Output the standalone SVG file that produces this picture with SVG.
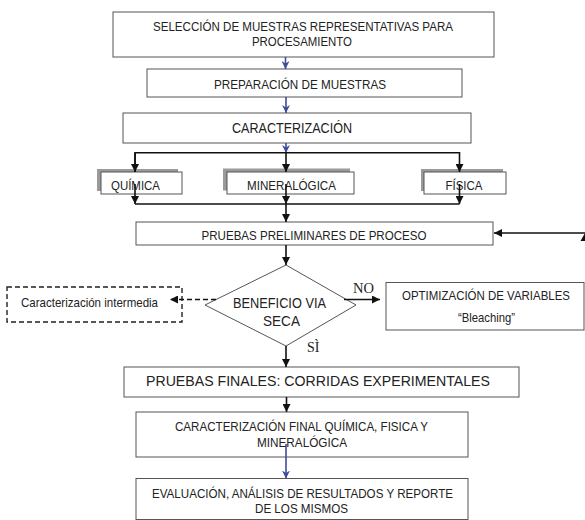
<svg xmlns="http://www.w3.org/2000/svg" width="585" height="520" viewBox="0 0 585 520">
<style>
.box{fill:#fff;stroke:#555;stroke-width:1}
.shadow{fill:#9a9a9a;stroke:none}
.t{font-family:"Liberation Sans",Arial,sans-serif;fill:#222;text-anchor:middle}
.s{font-family:"Liberation Serif","Times New Roman",serif;fill:#222}
.c{fill:none;stroke:#111;stroke-width:1.6}
.b{fill:none;stroke:#3d4c9c;stroke-width:1.6}
.d{fill:none;stroke:#111;stroke-width:1.6;stroke-dasharray:5,3}
</style>
<defs>
<marker id="ak" viewBox="0 0 10 10" refX="10" refY="5" markerWidth="8" markerHeight="8" markerUnits="userSpaceOnUse" orient="auto"><path d="M0,0 L10,5 L0,10 z" fill="#111"/></marker>
<marker id="ab" viewBox="0 0 10 10" refX="10" refY="5" markerWidth="8" markerHeight="8" markerUnits="userSpaceOnUse" orient="auto"><path d="M0,0 L10,5 L0,10 L3,5 z" fill="#3d4c9c"/></marker>
</defs>

<g id="n-seleccion">
<rect class="box" x="113" y="12" width="381" height="45"/>
<text class="t" x="303" y="31" font-size="12.5" textLength="300" lengthAdjust="spacingAndGlyphs">SELECCIÓN DE MUESTRAS REPRESENTATIVAS PARA</text>
<text class="t" x="302" y="45.5" font-size="12.5" textLength="100" lengthAdjust="spacingAndGlyphs">PROCESAMIENTO</text>
</g>
<g id="n-preparacion">
<rect class="box" x="147" y="69" width="315" height="28"/>
<text class="t" x="300" y="88.5" font-size="13.5" textLength="172" lengthAdjust="spacingAndGlyphs">PREPARACIÓN DE MUESTRAS</text>
</g>
<g id="n-caracterizacion">
<rect class="box" x="123" y="113" width="348" height="30"/>
<text class="t" x="292" y="133" font-size="15.5" textLength="120" lengthAdjust="spacingAndGlyphs">CARACTERIZACIÓN</text>
</g>
<g id="n-quimica">
<rect class="shadow" x="97" y="169" width="81" height="22"/>
<rect class="box" x="101" y="172" width="81" height="22"/>
<text class="t" x="135.5" y="190" font-size="13.5" textLength="49" lengthAdjust="spacingAndGlyphs">QUÍMICA</text>
</g>
<g id="n-mineralogica">
<rect class="shadow" x="223" y="168.5" width="127" height="22"/>
<rect class="box" x="227" y="172" width="127" height="22"/>
<text class="t" x="291.5" y="190" font-size="13.5" textLength="89" lengthAdjust="spacingAndGlyphs">MINERALÓGICA</text>
</g>
<g id="n-fisica">
<rect class="shadow" x="421" y="169" width="82" height="22"/>
<rect class="box" x="424" y="172" width="82" height="22"/>
<text class="t" x="464" y="190" font-size="13.5" textLength="37" lengthAdjust="spacingAndGlyphs">FÍSICA</text>
</g>
<g id="n-preliminares">
<rect class="box" x="136" y="222" width="357" height="23"/>
<text class="t" x="314" y="240" font-size="13.5" textLength="225" lengthAdjust="spacingAndGlyphs">PRUEBAS PRELIMINARES DE PROCESO</text>
</g>
<g id="n-beneficio">
<polygon class="box" points="286,265 356,305 286,346 205,305"/>
<text class="t" x="279.5" y="308" font-size="15" textLength="93" lengthAdjust="spacingAndGlyphs">BENEFICIO VIA</text>
<text class="t" x="281.5" y="326" font-size="15" textLength="37" lengthAdjust="spacingAndGlyphs">SECA</text>
</g>
<g id="n-intermedia">
<rect x="7" y="287" width="175" height="35" fill="#fff" stroke="#222" stroke-width="1.4" stroke-dasharray="5,3"/>
<text class="t" x="89.5" y="307" font-size="13" textLength="137" lengthAdjust="spacingAndGlyphs">Caracterización intermedia</text>
</g>
<g id="n-optimizacion">
<rect class="box" x="386" y="282.5" width="198" height="47.5"/>
<text class="t" x="486" y="300" font-size="12" textLength="168" lengthAdjust="spacingAndGlyphs">OPTIMIZACIÓN DE VARIABLES</text>
<text class="t" x="486.5" y="322" font-size="13" textLength="57" lengthAdjust="spacingAndGlyphs">“Bleaching”</text>
</g>
<g id="n-finales">
<rect class="box" x="124" y="367" width="395" height="30"/>
<text class="t" x="318" y="386" font-size="15.5" textLength="344" lengthAdjust="spacingAndGlyphs">PRUEBAS FINALES: CORRIDAS EXPERIMENTALES</text>
</g>
<g id="n-caract-final">
<rect class="box" x="136" y="412" width="332" height="45"/>
<text class="t" x="301.5" y="431" font-size="13.5" textLength="253" lengthAdjust="spacingAndGlyphs">CARACTERIZACIÓN FINAL QUÍMICA, FISICA Y</text>
<text class="t" x="302" y="446.5" font-size="13.5" textLength="90" lengthAdjust="spacingAndGlyphs">MINERALÓGICA</text>
</g>
<g id="n-evaluacion">
<rect class="box" x="136" y="478.5" width="332" height="41"/>
<text class="t" x="302.5" y="498" font-size="13.5" textLength="301" lengthAdjust="spacingAndGlyphs">EVALUACIÓN, ANÁLISIS DE RESULTADOS Y REPORTE</text>
<text class="t" x="301.5" y="513" font-size="13.5" textLength="93" lengthAdjust="spacingAndGlyphs">DE LOS MISMOS</text>
</g>

<g id="connectors">
<line class="b" x1="285.5" y1="57" x2="285.5" y2="69" marker-end="url(#ab)"/>
<line class="b" x1="286" y1="97" x2="286" y2="113" marker-end="url(#ab)"/>
<line class="b" x1="286" y1="143" x2="286" y2="153" marker-end="url(#ab)"/>
<polyline class="c" points="135,172 135,152.7 459.5,152.7 459.5,172" marker-end="url(#ak)"/>
<line class="c" x1="135" y1="153" x2="135" y2="172" marker-end="url(#ak)"/>
<line class="c" x1="286" y1="153" x2="286" y2="172" marker-end="url(#ak)"/>
<line class="c" x1="135" y1="184" x2="135" y2="204" marker-end="url(#ak)"/>
<line class="c" x1="286" y1="184" x2="286" y2="204" marker-end="url(#ak)"/>
<line class="c" x1="459.5" y1="184" x2="459.5" y2="204" marker-end="url(#ak)"/>
<line class="c" x1="135" y1="204" x2="459.5" y2="204"/>
<line class="c" x1="286" y1="204" x2="286" y2="222" marker-end="url(#ak)"/>
<line class="c" x1="585" y1="233" x2="494" y2="233" marker-end="url(#ak)"/>
<polygon points="580.5,241 585,233 585,241" fill="#111"/>
<line class="c" x1="286" y1="245" x2="286" y2="265" marker-end="url(#ak)"/>
<line class="d" x1="216" y1="299.5" x2="170" y2="299.5" marker-end="url(#ak)"/>
<line class="c" x1="344" y1="299.5" x2="380" y2="299.5" marker-end="url(#ak)"/>
<text class="s" x="353" y="293" font-size="14" textLength="21" lengthAdjust="spacingAndGlyphs">NO</text>
<line class="c" x1="286" y1="346" x2="286" y2="367" marker-end="url(#ak)"/>
<text class="s" x="307" y="352" font-size="14">SÌ</text>
<line class="c" x1="286.5" y1="397" x2="286.5" y2="412" marker-end="url(#ak)"/>
<line class="b" x1="286" y1="444" x2="286" y2="478.5" marker-end="url(#ab)"/>
</g>
</svg>
